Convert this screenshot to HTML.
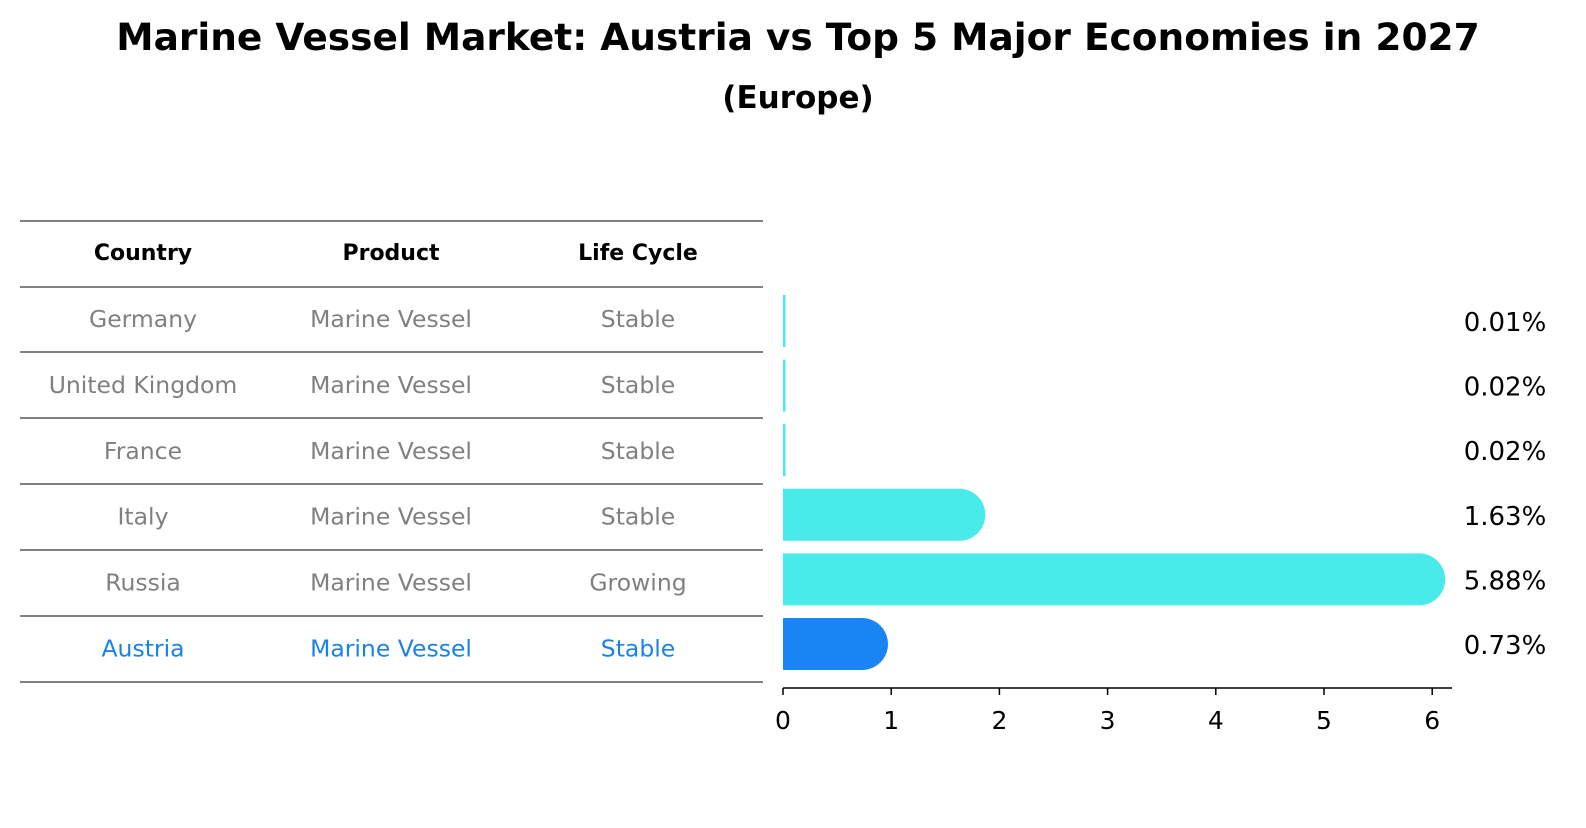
<!DOCTYPE html>
<html><head><meta charset="utf-8"><style>
body{margin:0;background:#fff;font-family:"Liberation Sans","DejaVu Sans",sans-serif}
</style></head><body>
<svg id="c" width="1586" height="823" xmlns="http://www.w3.org/2000/svg" font-family="DejaVu Sans, Liberation Sans, sans-serif">
<text x="798" y="50" text-anchor="middle" font-size="37.5" font-weight="bold">Marine Vessel Market: Austria vs Top 5 Major Economies in 2027</text>
<text x="798" y="108" text-anchor="middle" font-size="31" font-weight="bold">(Europe)</text>
<g id="table"></g>
<g id="bars"></g>
</svg>
<script>
const countries=["Germany","United Kingdom","France","Italy","Russia","Austria"];
const products=["Marine Vessel","Marine Vessel","Marine Vessel","Marine Vessel","Marine Vessel","Marine Vessel"];
const lifeCycles=["Stable","Stable","Stable","Stable","Growing","Stable"];
const values=[0.01,0.02,0.02,1.63,5.88,0.73];
const valueLabels=["0.01%","0.02%","0.02%","1.63%","5.88%","0.73%"];
const ticks=[0,1,2,3,4,5,6];
const NS="http://www.w3.org/2000/svg";
function mk(t,a,p,txt){const e=document.createElementNS(NS,t);for(const k in a)e.setAttribute(k,a[k]);if(txt!==undefined)e.textContent=txt;p.appendChild(e);return e;}
const tb=document.getElementById('table'),bg=document.getElementById('bars');
const rowY=i=>287+i*65.9;
const colX=[143,391,638];
[221,287,352,418,484,550,616,682].forEach((y,i)=>{
 const l=mk('line',{x1:20,x2:763,y1:y,y2:y,stroke:'#000','stroke-width':1},tb);
 
 
});
["Country","Product","Life Cycle"].forEach((h,j)=>{
 const t=mk('text',{x:colX[j],y:260,'text-anchor':'middle','font-size':22,'font-weight':'bold'},tb,h);
 
 
});
countries.forEach((c,i)=>{
 const col=c==="Austria"?"#1a82e8":"#808080";
 [c,products[i],lifeCycles[i]].forEach((v,j)=>{
  const t=mk('text',{x:colX[j],y:rowY(i)+40,'text-anchor':'middle','font-size':23.5,fill:col},tb,v);
  
  
 });
});
const x0=783,ppu=108.2;
const xs=v=>x0+v*ppu;
const by=i=>321+i*64.6;
const bh=52;
values.forEach((v,i)=>{
 const col=countries[i]==="Austria"?"#1985f5":"#48ebea";
 const w=Math.max(xs(v)-x0,0.5),r=bh/2,y=by(i)-r;
 let d;
 if(v<0.1){d=`M${x0},${y}h${Math.max(w,2.5)}v${bh}h-${Math.max(w,2.5)}z`;}
 else d=`M${x0},${y}h${w}a${r},${r} 0 0 1 0,${bh}h-${w}z`;
 const p=mk('path',{d:d,fill:col},bg);
 
 
 const t=mk('text',{x:1505,y:by(i)+10,'text-anchor':'middle','font-size':26},bg,valueLabels[i]);
 
 
});
const ax=mk('line',{x1:x0,x2:1452,y1:688,y2:688,stroke:'#000','stroke-width':1.5},bg);


ticks.forEach(t=>{
 const l=mk('line',{x1:xs(t),x2:xs(t),y1:688,y2:695,stroke:'#000','stroke-width':1.5},bg);
 
 
 const tx=mk('text',{x:xs(t),y:729,'text-anchor':'middle','font-size':25},bg,String(t));
 
 
});
</script>
</body></html>
